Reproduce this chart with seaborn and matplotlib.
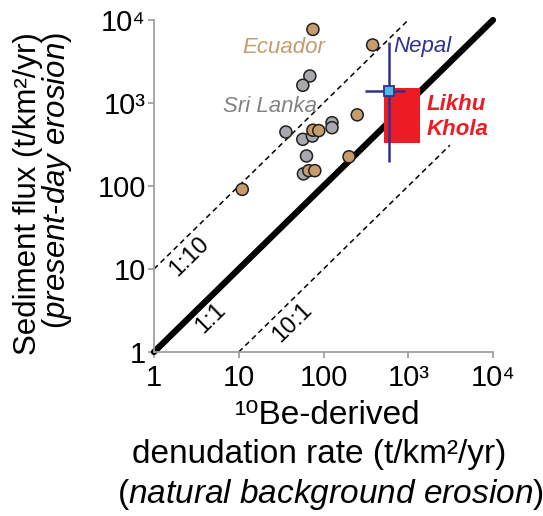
import matplotlib
matplotlib.use('Agg')
import matplotlib.pyplot as plt
import seaborn as sns
import pandas as pd

# ---------------- data ----------------
srilanka_x = [69, 57, 36, 126, 126, 57, 74, 63, 58]
srilanka_y = [2115, 1635, 447, 579, 504, 365, 400, 230, 140]
ecuador_x = [75, 380, 250, 75, 88, 200, 67, 79, 11]
ecuador_y = [7700, 5000, 720, 470, 465, 225, 153, 153, 91]

nepal_x, nepal_y = 590, 1400
nepal_x_range = [310, 915]
nepal_y_range = [196, 5480]

likhu_x_range = [517, 1376]
likhu_y_range = [332, 1517]

ratio_1to1 = ([1, 1e4], [1, 1e4])
ratio_1to10 = ([1, 1000], [10, 1e4])
ratio_10to1 = ([10, 3100], [1, 310])

tick_vals = [1, 10, 100, 1000, 10000]
tick_labels = ['1', '10', '100', '10³', '10⁴']

# ---------------- style ----------------
sns.set_theme(style='white')
plt.rcParams['font.family'] = ['Liberation Sans', 'DejaVu Sans']
plt.rcParams['text.color'] = 'black'
plt.rcParams['mathtext.fontset'] = 'custom'
plt.rcParams['mathtext.rm'] = 'Liberation Sans'
plt.rcParams['mathtext.it'] = 'Liberation Sans:italic'
plt.rcParams['mathtext.bf'] = 'Liberation Sans:bold'

W, H = 543, 516
fig = plt.figure(figsize=(W / 100, H / 100), dpi=100)
ax = fig.add_axes([154 / W, 1 - 352 / H, (493 - 154) / W, (352 - 20) / H])

ax.set_xscale('log')
ax.set_yscale('log')
ax.set_xlim(1, 1e4)
ax.set_ylim(1, 1e4)

# reference lines
ax.plot(*ratio_1to1, color='black', lw=4.5, solid_capstyle='round', clip_on=False, zorder=2)
ax.plot(*ratio_1to10, color='black', lw=1.1, ls=(0, (3.5, 2.5)), clip_on=False, zorder=2)
ax.plot(*ratio_10to1, color='black', lw=1.1, ls=(0, (3.5, 2.5)), clip_on=False, zorder=2)

# Likhu Khola box
ax.fill_between(likhu_x_range, likhu_y_range[0], likhu_y_range[1], color='#ec1c24', lw=0, zorder=3)

# scatter points
df = pd.DataFrame({
    'x': srilanka_x + ecuador_x,
    'y': srilanka_y + ecuador_y,
    'region': ['Sri Lanka'] * len(srilanka_x) + ['Ecuador'] * len(ecuador_x),
})
sns.scatterplot(data=df, x='x', y='y', hue='region',
                palette={'Sri Lanka': '#a7a9ac', 'Ecuador': '#c69c6d'},
                s=75, edgecolor='#231f20', linewidth=1.1, legend=False, ax=ax, zorder=4)

# Nepal
ax.errorbar([nepal_x], [nepal_y],
            xerr=[[nepal_x - nepal_x_range[0]], [nepal_x_range[1] - nepal_x]],
            yerr=[[nepal_y - nepal_y_range[0]], [nepal_y_range[1] - nepal_y]],
            fmt='s', color='#2e3192', ecolor='#2e3192', elinewidth=1.8, capsize=0,
            mfc='#4fb8e6', mec='#2e3192', mew=1.3, ms=7, zorder=5)

# axes styling
for s in ['top', 'right']:
    ax.spines[s].set_visible(False)
for s in ['left', 'bottom']:
    ax.spines[s].set_color('#a0a0a0')
    ax.spines[s].set_linewidth(1.3)
ax.set_xticks(tick_vals)
ax.set_yticks(tick_vals)
ax.set_xticklabels(tick_labels)
ax.set_yticklabels(tick_labels)
ax.minorticks_off()
ax.tick_params(axis='both', which='major', direction='out', length=4, width=1.3,
               color='#a0a0a0', labelsize=21, labelcolor='black', bottom=True, left=True)
ax.tick_params(axis='x', pad=5)
ax.tick_params(axis='y', pad=2)
ax.set_xlabel('')
ax.set_ylabel('')

def ft(x, y, s, **kw):
    kw.setdefault('color', 'black')
    fig.text(x / W, 1 - y / H, s, **kw)

# annotations
ft(284, 48, 'Ecuador', color='#c69c6d', style='italic', fontsize=16, ha='center', va='center')
ft(270, 107, 'Sri Lanka', color='#808285', style='italic', fontsize=16, ha='center', va='center')
ft(422, 47, 'Nepal', color='#2e3192', style='italic', fontsize=16, ha='center', va='center')
ft(427, 117, 'Likhu\nKhola', color='#ec1c24', style='italic', weight='bold', fontsize=16,
   ha='left', va='center', linespacing=1.2)

ft(189, 257, '1:10', fontsize=17, rotation=44.4, ha='center', va='center', rotation_mode='anchor')
ft(211, 318, '1:1', fontsize=17, rotation=44.4, ha='center', va='center', rotation_mode='anchor')
ft(292, 323, '10:1', fontsize=17, rotation=44.4, ha='center', va='center', rotation_mode='anchor')

# axis labels
ft(28, 32, 'Sediment flux (t/km²/yr)', fontsize=22.5, rotation=90, ha='center', va='top')
ft(57, 32, r'($\mathit{present}$-$\mathit{day\ erosion}$)', fontsize=22.5, rotation=90,
   ha='center', va='top')
ft(328, 415, '¹⁰Be-derived', fontsize=24, ha='center', va='center')
ft(319, 455, 'denudation rate (t/km²/yr)', fontsize=24, ha='center', va='center')
ft(330, 494, r'($\mathit{natural\ background\ erosion}$)', fontsize=24, ha='center', va='center')

fig.savefig('out.png', dpi=100)
